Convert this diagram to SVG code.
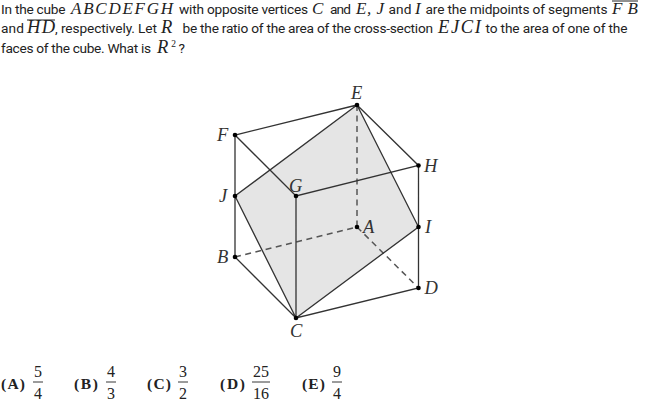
<svg xmlns="http://www.w3.org/2000/svg" width="655" height="400" viewBox="0 0 655 400">
<style>
.t{font-family:Roboto,"Liberation Sans",sans-serif;font-size:13.700px;fill:#222}
.m{font-family:"Liberation Serif",serif;font-style:italic;font-size:17px;fill:#222}
.m2{font-family:"Liberation Serif",serif;font-style:italic;font-size:18.500px;fill:#222}
.l{font-family:"Liberation Serif",serif;font-style:italic;font-size:18.500px;fill:#333}
.n{font-family:"Liberation Serif",serif;font-size:16px;fill:#222;text-anchor:middle}
.b{font-family:"Liberation Serif",serif;font-weight:bold;font-size:15.500px;fill:#222}
.e{stroke:#333;stroke-width:1.3;fill:none}
.d{stroke:#555;stroke-width:1.5;fill:none;stroke-dasharray:6 4.500}
.o{stroke:#222;stroke-width:1;fill:none}
.f{stroke:#222;stroke-width:.9}
circle{fill:#000}
</style>
<g id="question">
<text class="t" x="1" y="13.500" textLength="64.500">In the cube</text>
<text class="m" x="71" y="13.500" textLength="102">ABCDEFGH</text>
<text class="t" x="179" y="13.500" textLength="129">with opposite vertices</text>
<text class="m" x="312" y="13.500">C</text>
<text class="t" x="330" y="13.500" textLength="21">and</text>
<text class="m" x="356" y="13.500" textLength="28">E, J</text>
<text class="t" x="388.500" y="13.500" textLength="23">and</text>
<text class="m" x="415" y="13.500">I</text>
<text class="t" x="425.500" y="13.500" textLength="182">are the midpoints of segments</text>
<text class="m" x="612" y="13.500" textLength="26">FB</text>
<line class="o" x1="612" y1="1" x2="638" y2="1"/>
<text class="t" x="1" y="33" textLength="23">and</text>
<text class="m2" x="27" y="33" textLength="28">HD</text>
<line class="o" x1="27" y1="20" x2="55" y2="20"/>
<text class="t" x="55" y="33" textLength="102">, respectively. Let</text>
<text class="m2" x="161" y="33">R</text>
<text class="t" x="182.500" y="33" textLength="250.500">be the ratio of the area of the cross-section</text>
<text class="m2" x="438" y="33" textLength="43">EJCI</text>
<text class="t" x="485.500" y="33" textLength="142">to the area of one of the</text>
<text class="t" x="1" y="52.500" textLength="150">faces of the cube. What is</text>
<text class="m2" x="157" y="52.500">R</text>
<text class="n" x="173.500" y="47" style="font-size:9.500px">2</text>
<text class="t" x="178.500" y="52.500">?</text>
</g>
<g id="section"><polygon points="357,105 418.5,227 296,318 235,196" fill="#e5e5e5"/></g>
<g id="connectors">
<path class="d" d="M357 105V227M235 257L357 227M357 227L418.500 288"/>
<path class="e" d="M357 105L235 135L296 196L418.500 165.500ZM235 135V257L296 318L418.500 288V165.500M296 196V318M357 105L418.500 227L296 318L235 196Z"/>
</g>
<g id="node-E"><circle cx="357" cy="105" r="2.300"/><text class="l" x="351" y="99">E</text></g>
<g id="node-F"><circle cx="235" cy="135" r="2.300"/><text class="l" x="217" y="141">F</text></g>
<g id="node-G"><circle cx="296" cy="196" r="2.300"/><text class="l" x="289" y="192">G</text></g>
<g id="node-H"><circle cx="418.500" cy="165.500" r="2.300"/><text class="l" x="424" y="172">H</text></g>
<g id="node-J"><circle cx="235" cy="196" r="2.300"/><text class="l" x="219" y="202">J</text></g>
<g id="node-I"><circle cx="418.500" cy="227" r="2.300"/><text class="l" x="425" y="233">I</text></g>
<g id="node-A"><circle cx="357" cy="227" r="2.300"/><text class="l" x="363" y="233">A</text></g>
<g id="node-B"><circle cx="235" cy="257" r="2.300"/><text class="l" x="217" y="263">B</text></g>
<g id="node-C"><circle cx="296" cy="318" r="2.300"/><text class="l" x="290" y="337">C</text></g>
<g id="node-D"><circle cx="418.500" cy="288" r="2.300"/><text class="l" x="424.500" y="294">D</text></g>
<g id="answers">
<text class="b" x="1" y="388.500" textLength="24">(A)</text>
<text class="n" x="38" y="376.500">5</text><line class="f" x1="33" y1="382" x2="43" y2="382"/><text class="n" x="38" y="398.500">4</text>
<text class="b" x="74" y="388.500" textLength="24">(B)</text>
<text class="n" x="111" y="376.500">4</text><line class="f" x1="106" y1="382" x2="116" y2="382"/><text class="n" x="111" y="398.500">3</text>
<text class="b" x="147" y="388.500" textLength="24">(C)</text>
<text class="n" x="183" y="376.500">3</text><line class="f" x1="178" y1="382" x2="188" y2="382"/><text class="n" x="183" y="398.500">2</text>
<text class="b" x="220" y="388.500" textLength="25">(D)</text>
<text class="n" x="261" y="376.500">25</text><line class="f" x1="252" y1="382" x2="270" y2="382"/><text class="n" x="261" y="398.500">16</text>
<text class="b" x="302" y="388.500" textLength="23">(E)</text>
<text class="n" x="337" y="376.500">9</text><line class="f" x1="332" y1="382" x2="342" y2="382"/><text class="n" x="337" y="398.500">4</text>
</g>
</svg>
